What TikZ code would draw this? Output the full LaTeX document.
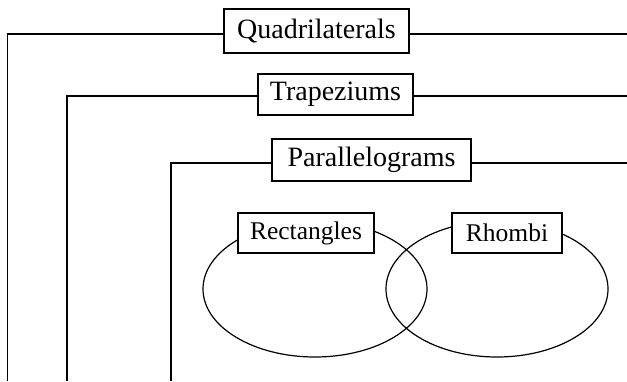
\documentclass[tikz,border=0pt]{standalone}
\usepackage{fontspec}
\setmainfont{Liberation Serif}
\begin{document}
\begin{tikzpicture}[x=0.5pt,y=-0.5pt,line width=0.6pt,
  bigbox/.style={draw,fill=white,inner sep=0pt,font=\fontsize{14}{16}\selectfont},
  smallbox/.style={draw,fill=white,inner sep=0pt,font=\fontsize{12.75}{15}\selectfont},
  venn/.style={draw,ellipse,minimum width=223pt,minimum height=136pt,inner sep=0pt}]
\useasboundingbox (0,0) rectangle (627,381);
% ellipses
\draw (315,289) ellipse [x radius=112, y radius=68];
\draw (497,289) ellipse [x radius=111, y radius=68];
% nodes
\node[bigbox,minimum width=92.5pt,minimum height=22pt] (Q) at (316.5,31) {Quadrilaterals};
\node[bigbox,minimum width=77.5pt,minimum height=20.5pt] (T) at (335.5,94.5) {Trapeziums};
\node[bigbox,minimum width=99.5pt,minimum height=21pt] (P) at (371.5,160) {Parallelograms};
\node[smallbox,minimum width=68pt,minimum height=20pt] (R) at (306,233) {Rectangles};
\node[smallbox,minimum width=55pt,minimum height=20pt] (H) at (507,233) {Rhombi};
% frame lines
\coordinate (qb) at (7.5,381);
\coordinate (qr) at (627,34);
\coordinate (tb) at (67,381);
\coordinate (tr) at (627,96);
\coordinate (pb) at (171,381);
\coordinate (pr) at (627,163);
\draw (qb) |- (Q.west |- qr);
\draw (Q.east |- qr) -- (qr);
\draw (tb) |- (T.west |- tr);
\draw (T.east |- tr) -- (tr);
\draw (pb) |- (P.west |- pr);
\draw (P.east |- pr) -- (pr);
\end{tikzpicture}
\end{document}
